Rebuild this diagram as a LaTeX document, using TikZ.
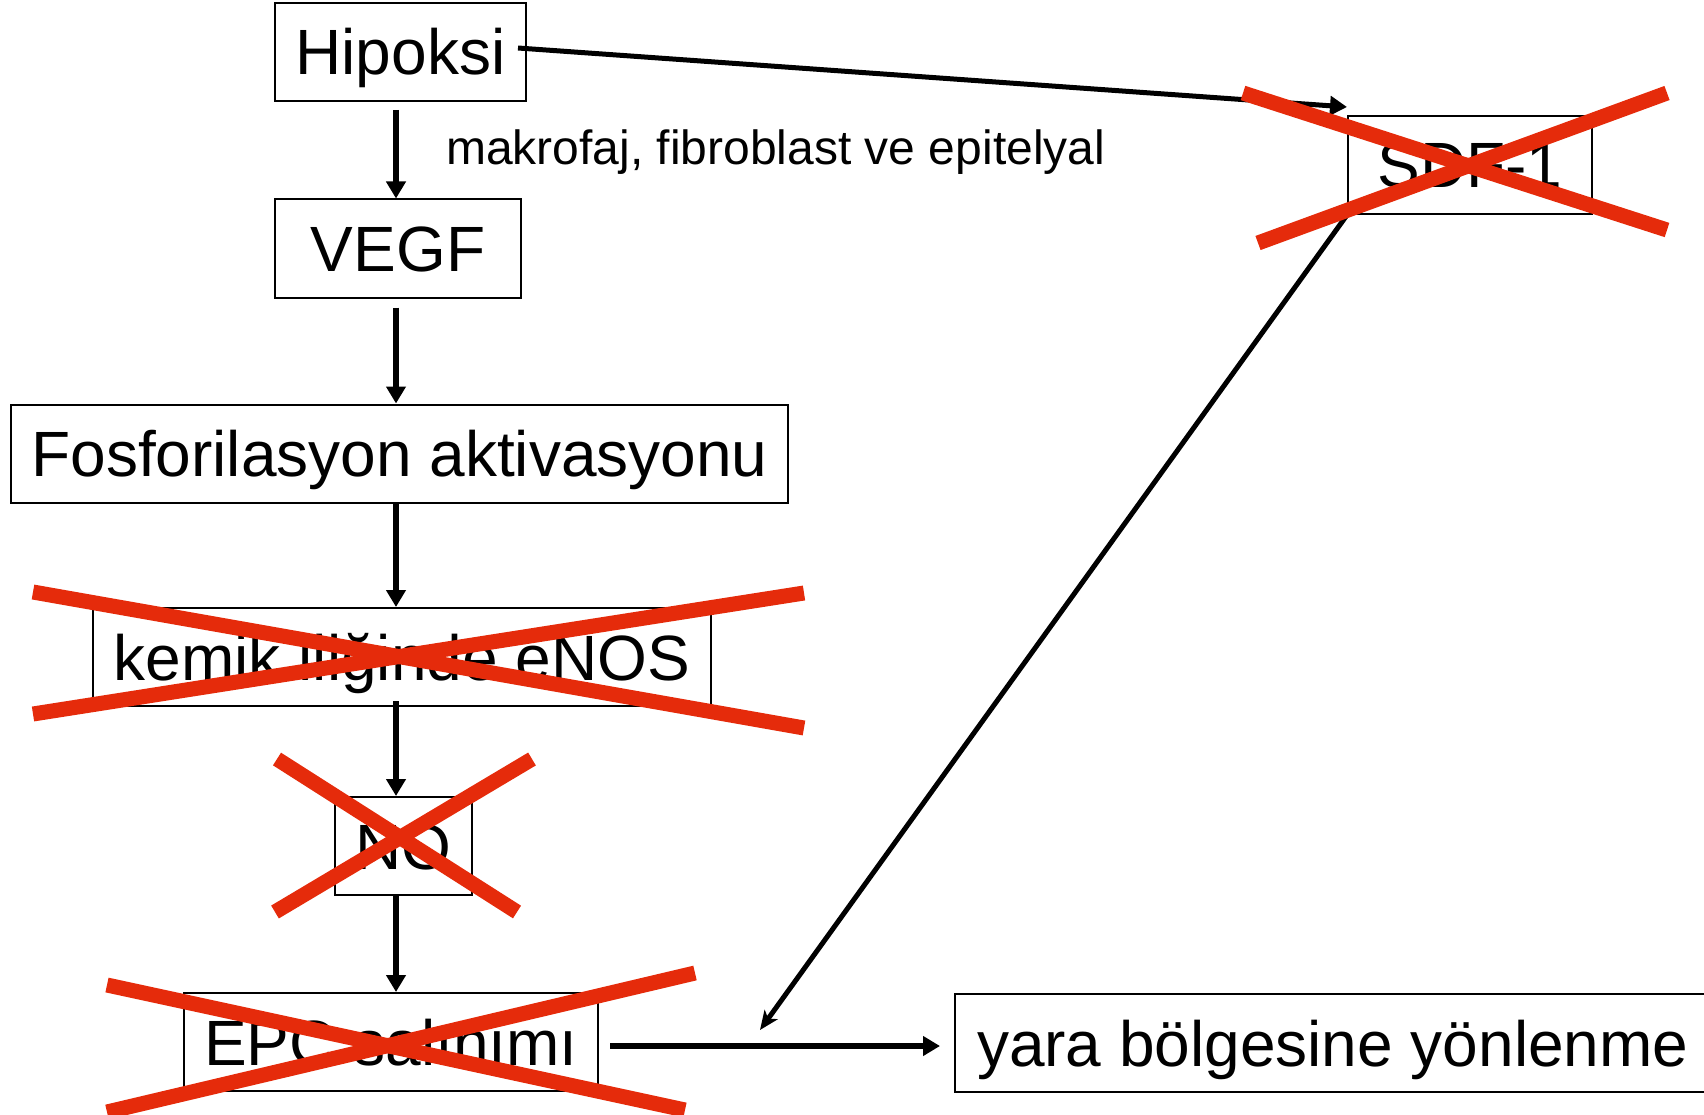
\documentclass[tikz,border=0pt]{standalone}
\usepackage{fontspec}
\setmainfont{Liberation Sans}
\usetikzlibrary{arrows.meta}
\definecolor{crossred}{RGB}{229,43,11}
\begin{document}
\begin{tikzpicture}[x=1pt,y=-1pt,
  box/.style={draw, line width=2pt, inner sep=0pt,
    font=\fontsize{64}{70}\selectfont, text height=46pt, text depth=0pt,
    minimum height=98pt},
  flow/.style={line width=6pt, -{Triangle[length=17pt,width=19pt]}},
  cross/.style={crossred, line width=15pt}]
\useasboundingbox (0,0) rectangle (1704,1115);

% main chain
\node[box, minimum width=251pt] (hip)  at (400.5,52)   {Hipoksi};
\node[box, minimum width=246pt] (vegf) at (398,248.5)  {VEGF};
\node[box, minimum width=777pt] (fos)  at (399.5,453.5) {Fosforilasyon aktivasyonu};
\node[box, minimum width=618pt] (enos) at (402,657)    {kemik iliğinde eNOS};
\node[box, minimum width=137pt] (no)   at (403.5,846)  {NO};
\node[box, minimum width=414pt] (epc)  at (391,1042)   {EPC salınımı};
\node[box, minimum width=244pt] (sdf)  at (1470,165)   {SDF-1\hspace{20pt}};
\node[box, anchor=west, inner xsep=22pt] (yara) at (954,1043) {yara bölgesine yönlenme};

\node[font=\fontsize{48}{56}\selectfont, anchor=base west, inner sep=0pt] (lbl)
  at (446,165) {makrofaj, fibroblast ve epitelyal};

% connectors
\coordinate (col) at (396,0);
\draw[flow, shorten <=8pt] (hip.south -| col) -- (vegf.north -| col);
\draw[flow, shorten <=9pt] (vegf.south -| col) -- (fos.north -| col);
\draw[flow] (fos.south -| col) -- (enos.north -| col);
\draw[flow, shorten <=-6pt] (enos.south -| col) -- (no.north -| col);
\draw[flow] (no.south -| col) -- (epc.north -| col);

\draw[flow, line width=5pt] ([xshift=-9pt,yshift=4pt]hip.east) -- ([yshift=8pt]sdf.north west);

\coordinate (meet) at (760,1030);
\draw[line width=5pt, -{Stealth[length=19pt,width=16pt,inset=5pt]}] (sdf.south west) -- (meet);

\draw[flow, shorten <=11pt, shorten >=14pt] ([yshift=-4pt]epc.east) -- ([yshift=-4pt]epc.east -| yara.west);

% strike-outs
\draw[cross] (1243,93) -- (1667,230);
\draw[cross] (1258,243) -- (1667,93);
\draw[cross] (33,592) -- (804,728);
\draw[cross] (33,714) -- (804,593);
\draw[cross] (277,759) -- (517,912);
\draw[cross] (275,912) -- (532,759);
\draw[cross] (107,985) -- (685,1110);
\draw[cross] (107,1112) -- (695,973);
\end{tikzpicture}
\end{document}
